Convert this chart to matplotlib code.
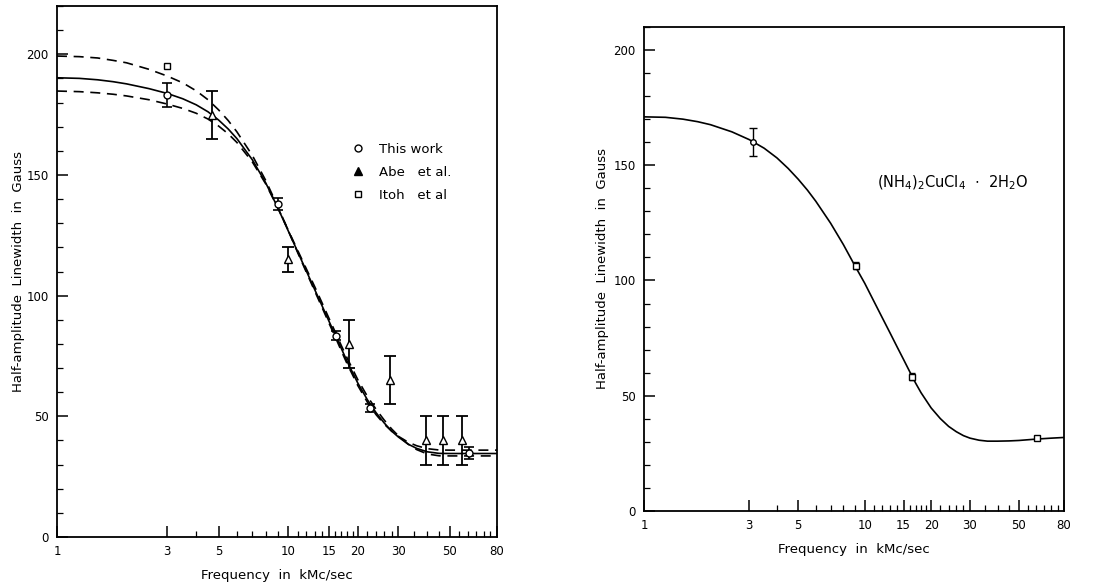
import matplotlib

matplotlib.use("Agg")
import matplotlib.pyplot as plt
from matplotlib.lines import Line2D

# frequency grid along which the drawn curves were read (kMc/sec)
freq_curve = [1, 1.25, 1.5, 1.75, 2, 2.5, 3, 3.5, 4, 4.5, 5, 5.5, 6, 7, 8, 9, 10, 11, 12, 13, 14, 15, 16,
              17, 18, 20, 22, 24, 26, 28, 30, 33, 36, 40, 45, 50, 60, 70, 80]

# ---- left panel: fitted curves ----
left_solid = [190.3, 190.05, 189.46, 188.67, 187.77, 185.8, 183.8, 181.6, 179.1, 176.2, 172.8, 169.1,
              165.1, 156.3, 146.7, 136.6, 126.9, 118.1, 110.1, 102.7, 95.9, 89.5, 83.6, 78.0, 72.7, 63.8,
              56.9, 51.5, 47.3, 43.9, 41.4, 38.5, 36.7, 35.3, 34.65, 34.6, 34.6, 34.6, 34.6]
left_upper = [199.3, 199.05, 198.5, 197.5, 196.5, 193.8, 191.0, 188.2, 184.9, 181.2, 177.0, 172.6,
              167.9, 158.1, 147.7, 137.1, 127.1, 117.8, 109.6, 102.1, 95.2, 88.7, 82.8, 77.0, 71.7, 62.8,
              55.9, 50.7, 46.8, 43.9, 41.7, 39.3, 37.8, 36.6, 36.05, 36.0, 36.0, 36.0, 36.0]
left_lower = [184.8, 184.55, 184.06, 183.47, 182.77, 181.2, 179.4, 177.6, 175.6, 173.2, 170.3, 167.1,
              163.5, 155.4, 146.3, 136.6, 127.2, 118.7, 111.0, 103.9, 97.1, 90.7, 84.8, 79.2, 74.1, 65.2,
              58.3, 52.9, 48.5, 44.8, 41.9, 38.5, 36.2, 34.4, 33.65, 33.6, 33.6, 33.6, 33.6]

# ---- left panel: measurements ----
this_f = [3.0, 9.0, 16.1, 22.7, 60.4]
this_w = [183, 138, 83.5, 53.5, 35]
this_err = [5, 2.5, 2, 1.5, 2.5]

abe_f = [4.7, 10.0, 18.4, 27.7, 39.4, 46.5, 56.4]
abe_w = [175, 115, 80, 65, 40, 40, 40]
abe_err = [10, 5, 10, 10, 10, 10, 10]

itoh_f = [3.0]
itoh_w = [195]

# ---- right panel ----
right_curve = [171, 170.8, 170.0, 168.9, 167.6, 164.5, 161.1, 157.4, 153.2, 148.6, 143.9, 139.2, 134.4,
               124.9, 115.6, 106.6, 98.8, 91.0, 83.9, 77.4, 71.3, 65.7, 60.4, 55.5, 51.3, 44.7, 40.1,
               36.7, 34.4, 32.7, 31.6, 30.7, 30.3, 30.3, 30.4, 30.6, 31.2, 31.6, 31.9]
right_f = [3.12, 9.1, 16.4, 60.4]
right_w = [160, 106.5, 58.3, 31.7]
right_err = [6, 1.5, 1.5, 1]

major_x = [1, 3, 5, 10, 15, 20, 30, 50, 80]
minor_x = [4, 6, 7, 8, 9, 11, 12, 13, 14, 16, 17, 18, 19, 22, 24, 26, 28, 35, 40, 45, 55, 60, 65, 70, 75]
major_y = [0, 50, 100, 150, 200]

plt.rcParams.update({"font.family": "DejaVu Sans", "font.size": 8.5})

fig = plt.figure(figsize=(11, 5.86), dpi=100)
ax1 = fig.add_axes([0.0518, 0.0836, 0.4, 0.906])
ax2 = fig.add_axes([0.5855, 0.128, 0.3818, 0.826])


def style_axes(ax, ytop, ypad):
    ax.set_xscale("log")
    ax.set_xlim(1, 80)
    ax.set_ylim(0, ytop)
    ax.set_xticks(major_x)
    ax.set_xticklabels([str(v) for v in major_x])
    ax.set_xticks(minor_x, minor=True)
    ax.set_xticklabels([], minor=True)
    ax.set_yticks(major_y)
    ax.set_yticks(range(0, int(ytop) + 1, 10), minor=True)
    ax.tick_params(which="major", direction="in", length=8, width=1.1, pad=6)
    ax.tick_params(which="minor", direction="in", length=4, width=0.9)
    ax.tick_params(axis="x", which="both", top=False)
    ax.tick_params(axis="y", which="both", right=False)
    for sp in ax.spines.values():
        sp.set_linewidth(1.3)
    ax.set_xlabel("Frequency  in  kMc/sec", fontsize=9.5, labelpad=8)
    ax.set_ylabel("Half-amplitude  Linewidth  in  Gauss", fontsize=9.5, labelpad=ypad)


# left panel
ax1.plot(freq_curve, left_solid, color="black", lw=1.2)
ax1.plot(freq_curve, left_upper, color="black", lw=1.2, ls=(0, (6, 4)))
ax1.plot(freq_curve, left_lower, color="black", lw=1.2, ls=(0, (6, 4)))
ax1.errorbar(this_f, this_w, yerr=this_err, fmt="o", ms=5, mfc="white", mec="black", ecolor="black",
             elinewidth=1.2, capsize=3.5, capthick=1.2)
ax1.plot(this_f, this_w, ".", ms=2, color="black")
ax1.errorbar(abe_f, abe_w, yerr=abe_err, fmt="^", ms=6, mfc="white", mec="black", ecolor="black",
             elinewidth=1.3, capsize=4, capthick=1.3)
ax1.plot(itoh_f, itoh_w, "s", ms=5, mfc="white", mec="black")
style_axes(ax1, 220, 1)

handles = [
    Line2D([], [], ls="none", marker="o", ms=5, mfc="white", mec="black"),
    Line2D([], [], ls="none", marker="^", ms=6, color="black"),
    Line2D([], [], ls="none", marker="s", ms=5, mfc="white", mec="black"),
]
ax1.legend(handles, ["This work", "Abe   et al.", "Itoh   et al"], loc="upper left",
           bbox_to_anchor=(0.627, 0.765), frameon=False, fontsize=9.5, handletextpad=0.6,
           labelspacing=0.75)

# right panel
ax2.plot(freq_curve, right_curve, color="black", lw=1.2)
ax2.errorbar(right_f[:1], right_w[:1], yerr=right_err[:1], fmt="o", ms=4, mfc="white", mec="black",
             ecolor="black", elinewidth=1.0, capsize=3, capthick=1.0)
ax2.errorbar(right_f[1:], right_w[1:], yerr=right_err[1:], fmt="s", ms=4.5, mfc="white", mec="black",
             ecolor="black", elinewidth=1.0, capsize=2.5, capthick=1.0)
ax2.plot(right_f, right_w, ".", ms=2, color="black")
style_axes(ax2, 210, 3)
ax2.text(0.555, 0.678, r"(NH$_4$)$_2$CuCl$_4$  $\cdot$  2H$_2$O", transform=ax2.transAxes,
         fontsize=10.5, ha="left", va="center")

fig.savefig("out.png", dpi=100)
